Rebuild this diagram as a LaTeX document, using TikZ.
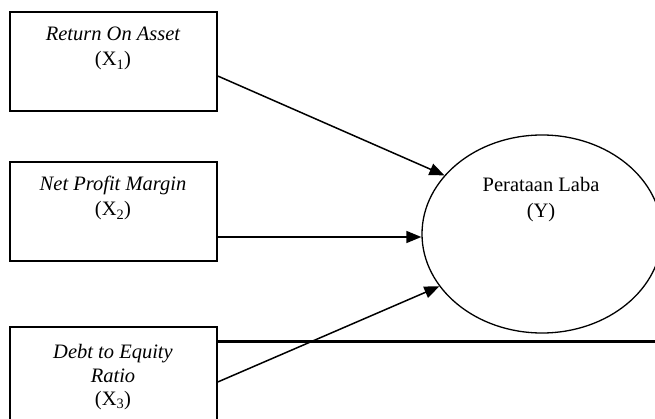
\documentclass[tikz,border=0pt]{standalone}
\usepackage{fontspec}
\setmainfont{Liberation Serif}
\usetikzlibrary{arrows.meta,shapes.geometric}
\begin{document}
\begin{tikzpicture}[x=1pt,y=-1pt,
  varbox/.style={draw,line width=1.5pt,inner sep=0pt,minimum width=207pt},
  txt/.style={anchor=base,inner sep=0pt,font=\fontsize{20.5}{24}\selectfont},
  arr/.style={line width=1.5pt,-{Triangle[length=15pt,width=12pt]}},
  rule/.style={line width=3pt}]
\useasboundingbox (0,0) rectangle (655,419);
\clip (0,0) rectangle (655,419);
\fill[white] (0,0) rectangle (655,419);
% boxes
\node[varbox,minimum height=99pt] (b1) at (113.5,61.5) {};
\node[varbox,minimum height=99pt] (b2) at (113.5,211.5) {};
\node[varbox,minimum height=115pt] (b3) at (113.5,384.5) {};
% box texts
\node[txt] (t1a) at (113,41) {\itshape Return On Asset};
\node[txt] (t1b) at (113,66) {(X\textsubscript{1})};
\node[txt] (t2a) at (113,191) {\itshape Net Profit Margin};
\node[txt] (t2b) at (113,216) {(X\textsubscript{2})};
\node[txt] (t3a) at (113,358) {\itshape Debt to Equity};
\node[txt] (t3b) at (113,382) {\itshape Ratio};
\node[txt] (t3c) at (113,405) {(X\textsubscript{3})};
% dependent variable
\node[draw,ellipse,line width=1.3pt,inner sep=0pt,minimum width=240pt,minimum height=198pt] (Y) at (542,234) {};
\node[txt] (ya) at (541,192) {Perataan Laba};
\node[txt] (yb) at (541,218) {(Y)};
% connectors
\coordinate (s1) at (b1.east |- 0,76);
\coordinate (s2) at (b2.east |- 0,237);
\coordinate (s3) at (b3.east |- 0,382);
\draw[arr] (s1) -- (Y.149.6);
\draw[arr] (s2) -- (s2 -| Y.west);
\draw[arr] (s3) -- (Y.207.2);
% thick rule
\coordinate (r0) at (b3.east |- 0,341);
\coordinate (r1) at (660,341);
\draw[rule] (r0) -- (r1);
\end{tikzpicture}
\end{document}
